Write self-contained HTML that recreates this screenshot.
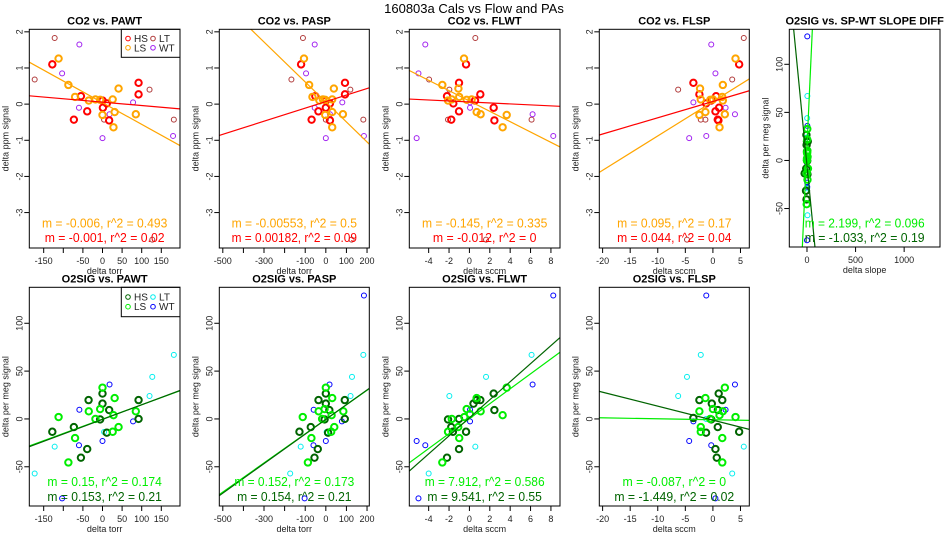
<!DOCTYPE html>
<html><head><meta charset="utf-8"><style>
html,body{margin:0;padding:0;background:#fff;width:950px;height:550px;overflow:hidden;}
svg{display:block;font-family:"Liberation Sans",sans-serif;}
</style></head><body>
<svg id="chart" width="950" height="550" viewBox="0 0 950 550" xmlns="http://www.w3.org/2000/svg">
<rect x="0" y="0" width="950" height="550" fill="#fff"/>
<text x="474" y="13" font-size="13" text-anchor="middle">160803a   Cals vs Flow and PAs</text>
</svg>
<script>
// ---- data: CO2 vs PAWT / PASP ----
const co2_pawt_hs_x=[-128,-55,-73,-39,0,1,11,17,92,92];
const co2_pawt_ls_x=[-112,-87,-70,-35,-18,-6,0,26,31,28,41,85];
const co2_pawt_lt_x=[-122,-173,4,120,182,127];
const co2_pawt_wt_x=[-59,-103,-60,0,18,78,180];
const co2_pasp_hs_x=[-120,-51,-69,-36,1,0,20,20,93,93];
const co2_pasp_ls_x=[-106,-81,-65,-31,-14,-3,-3,31,31,31,39,83];
const co2_pasp_lt_x=[-111,-167,0,119,182,125];
const co2_pasp_wt_x=[-54,-96,-54,0,20,80,185];
const co2_pa_hs_y=[1.1,0.22,-0.43,-0.2,0.1,-0.1,0.02,-0.45,0.59,0.27];
const co2_pa_ls_y=[1.26,0.53,0.2,0.1,0.13,0.12,-0.3,0.13,-0.22,-0.64,0.43,-0.28];
const co2_pa_lt_y=[1.83,0.68,-0.43,0.4,-0.43,-3.75];
const co2_pa_wt_y=[1.65,0.85,-0.1,-0.94,-0.28,0.05,-0.88];
// ---- CO2 vs FLWT ----
const co2_flwt_hs_x=[-0.33,-2.2,-1.78,-1.02,0.55,2.38,-1.58,2.45,-1.02,1.07];
const co2_flwt_hs_y=[1.1,0.22,-0.43,-0.2,0.1,-0.1,0.02,-0.45,0.59,0.27];
const co2_flwt_ls_x=[-0.53,-2.66,-1.0,-1.73,-1.08,-0.27,3.66,0.71,3.26,1.1,-2.1,0.22];
const co2_flwt_ls_y=[1.26,0.53,0.2,0.13,0.43,0.12,-0.3,-0.22,-0.64,-0.28,0.1,0.13];
const co2_flwt_lt_x=[0.58,-3.96,-1.97,6.1,-2.1,1.63];
const co2_flwt_lt_y=[1.83,0.68,0.4,-0.43,-0.43,-3.75];
const co2_flwt_wt_x=[-4.33,-5.0,-5.18,0.06,0.06,6.2,8.23];
const co2_flwt_wt_y=[1.65,0.85,-0.94,0.05,-0.1,-0.28,-0.88];
// ---- CO2 vs FLSP ----
const co2_flsp_hs_x=[4.76,-3.54,-2.45,-1.24,0.58,0.46,1.12,0.88,1.0,-0.3];
const co2_flsp_hs_y=[1.1,0.59,0.27,0.02,0.22,-0.2,-0.1,-0.43,-0.45,0.1];
const co2_flsp_ls_x=[4.1,1.8,-2.33,-2.2,1.7,1.8,-0.48,0,-1.36,-2.45,2.17,1.2];
const co2_flsp_ls_y=[1.26,0.53,0.43,0.13,0.2,0.1,0.12,0.13,-0.22,-0.3,-0.28,-0.64];
const co2_flsp_lt_x=[5.6,3.5,-6.3,-2.2,-1.36,-4.7];
const co2_flsp_lt_y=[1.83,0.68,0.4,-0.43,-0.43,-3.75];
const co2_flsp_wt_x=[-0.3,0.46,-3.54,2.3,4.0,-4.3,-1.2];
const co2_flsp_wt_y=[1.65,0.85,0.05,-0.1,-0.28,-0.94,-0.88];
// ---- O2 vs PAWT / PASP ----
const o2_pa_hs_x=[-128,-55,-73,-39,-35.5,-6,0,0,17,11,92,92];
const o2_pa_hs_y=[-13.4,-40.5,-8.5,-31.5,19.7,-0.5,16,26.5,9.3,-14.4,19.7,0];
const o2_pa_ls_x=[-112,-87,-70,-35,-18,-6,0,26,28,31,41,85];
const o2_pa_ls_y=[2,-45.5,-20,8,0,10.3,32.7,-13.4,3.9,21.8,-8.5,8];
const o2_pa_lt_x=[-122,-173,4,120,127,182];
const o2_pa_lt_y=[-29,-57,-13.7,24,44,67];
const o2_pa_wt_x=[-59,-103,-60,0,18,78,185];
const o2_pa_wt_y=[9.6,-83,-27.5,-23,36,-2.6,129];
// ---- O2 vs FLWT ----
const o2_flwt_hs_x=[-2.2,-1.02,-1.62,-0.33,-1.78,-1.02,0.4,0.7,1.07,2.38,2.45,-2.1];
const o2_flwt_hs_y=[-40.5,-31.5,-13.4,-13.4,-8.5,0,16,19.7,19.7,26.5,9.3,-0.5];
const o2_flwt_ls_x=[-2.66,-1.0,-1.1,-2.1,-1.73,-0.27,-0.5,0.71,1.1,3.66,3.26,0.05];
const o2_flwt_ls_y=[-45.5,-20,-8.5,-13.4,0,10.3,2,21.8,8,32.7,3.9,5];
const o2_flwt_lt_x=[-1.97,1.63,6.1,0.58,-4.0];
const o2_flwt_lt_y=[24,44,67,-29,-57];
const o2_flwt_wt_x=[-5.18,-4.33,-5.0,0.06,0.06,6.2,8.23];
const o2_flwt_wt_y=[-23,-27.5,-83,9.6,-2.6,36,129];
// ---- O2 vs FLSP ----
const o2_flsp_hs_x=[4.76,-2.45,-0.2,1.05,1.7,0.9,0.88,-1.24,0.46,0.7,-3.54,-0.3];
const o2_flsp_hs_y=[-13.4,19.7,16,26.5,19.7,9.3,-8.5,-14.4,-31.5,-40.5,1,-0.5];
const o2_flsp_ls_x=[4.1,2.17,1.7,1.7,-1.36,-2.45,0,-2.2,-2.2,1.2,1.8,-0.48];
const o2_flsp_ls_y=[2,32.7,-45.5,-20,21.8,8,10.3,-8.5,-13.4,3.9,8,0];
const o2_flsp_lt_x=[-6.3,-4.7,-2.2,5.6,3.5,-1.24];
const o2_flsp_lt_y=[24,44,67,-29,-57,0];
const o2_flsp_wt_x=[-1.2,4.0,2.3,-3.54,-4.3,-0.3,0.46];
const o2_flsp_wt_y=[129,36,9.6,-2.6,-23,-27.5,-83];
// ---- O2 vs slope diff ----
const o2_sd_hs_x=[-24,-5,-8,-10,0,2,-4,-6,0,5,8,0];
const o2_sd_ls_x=[0,-3,5,2,0,4,3,-2,6,2,10,0];
const o2_sd_lt_x=[2,5,3,0,2,4];
const o2_sd_wt_x=[4,0,3,2,4,0,3];
// ---- fit lines: [slope, intercept] ----
const fit_co2_pawt_ls=[-0.006,0.04], fit_co2_pawt_hs=[-0.00094,0.055];
const fit_co2_pasp_ls=[-0.00553,0.06], fit_co2_pasp_hs=[0.00181,0.07];
const fit_co2_flwt_ls=[-0.143,0.086], fit_co2_flwt_hs=[-0.0135,0.06];
const fit_co2_flsp_ls=[0.095,0.07], fit_co2_flsp_hs=[0.045,0.073];
const fit_sd_ls=[2.199,15], fit_sd_hs=[-1.033,-5.3];
const fit_o2_pawt_ls=[0.15,-0.2], fit_o2_pawt_hs=[0.153,-0.5];
const fit_o2_pasp_ls=[0.152,-0.4], fit_o2_pasp_hs=[0.154,-0.5];
const fit_o2_flwt_ls=[7.81,0.3], fit_o2_flwt_hs=[9.43,1.2];
const fit_o2_flsp_ls=[-0.1,-0.85], fit_o2_flsp_hs=[-1.46,-1.26];
// ---- annotations ----
const ann_top_ls=["m = -0.006, r^2 = 0.493","m = -0.00553, r^2 = 0.5","m = -0.145, r^2 = 0.335","m = 0.095, r^2 = 0.17","m = 2.199, r^2 = 0.096"];
const ann_top_hs=["m = -0.001, r^2 = 0.02","m = 0.00182, r^2 = 0.09","m = -0.012, r^2 = 0","m = 0.044, r^2 = 0.04","m = -1.033, r^2 = 0.19"];
const ann_bot_ls=["m = 0.15, r^2 = 0.174","m = 0.152, r^2 = 0.173","m = 7.912, r^2 = 0.586","m = -0.087, r^2 = 0"];
const ann_bot_hs=["m = 0.153, r^2 = 0.21","m = 0.154, r^2 = 0.21","m = 9.541, r^2 = 0.55","m = -1.449, r^2 = 0.02"];
// ---- ticks ----
const tick_pa=[-150,-100,-50,0,50,100,150], lab_pa=["-150","","-50","0","50","100","150"];
const tick_pasp=[-500,-400,-300,-200,-100,0,100,200], lab_pasp=["-500","","-300","","-100","0","100","200"];
const tick_flwt=[-4,-2,0,2,4,6,8], lab_flwt=["-4","-2","0","2","4","6","8"];
const tick_flsp=[-20,-15,-10,-5,0,5], lab_flsp=["-20","-15","-10","-5","0","5"];
const tick_sd=[0,500,1000], lab_sd=["0","500","1000"];
const tick_co2=[2,1,0,-1,-2,-3], lab_co2=["2","1","0","-1","-2","-3"];
const tick_o2=[100,50,0,-50], lab_o2=["100","50","0","-50"];

const NS="http://www.w3.org/2000/svg";
const svg=document.getElementById('chart');
function mk(tag,attrs,parent){const e=document.createElementNS(NS,tag);for(const k in attrs)e.setAttribute(k,attrs[k]);(parent||svg).appendChild(e);return e;}
const TOPC={hs:"#ff0000",ls:"#ffa500",lt:"#b03a3a",wt:"#a020f0"};
const BOTC={hs:"#006400",ls:"#00ee00",lt:"#00eeee",wt:"#0000ff"};

function panel(cfg){
  const g=mk('g',{});
  
  
  const {l,r,t,b,xlim,ylim}=cfg;
  const sx=v=>l+(v-xlim[0])/(xlim[1]-xlim[0])*(r-l);
  const sy=v=>b-(v-ylim[0])/(ylim[1]-ylim[0])*(b-t);
  const cid='clip-'+cfg.name;
  const cp=mk('clipPath',{id:cid},g);mk('rect',{x:l,y:t,width:r-l,height:b-t},cp);
  const ti=mk('text',{x:(l+r)/2,y:t-5,'font-size':11,'font-weight':'bold','text-anchor':'middle'},g);
  ti.textContent=cfg.title;
  
  
  cfg.xt.forEach((v,i)=>{
    const X=sx(v);
    mk('line',{x1:X,x2:X,y1:b,y2:b+5,stroke:'#000','stroke-width':1},g);
    if(cfg.xl[i]){const tx=mk('text',{x:X,y:b+16,'font-size':9,'text-anchor':'middle',fill:'#222'},g);tx.textContent=cfg.xl[i];
      
      }
  });
  mk('line',{x1:sx(cfg.xt[0]),x2:sx(cfg.xt[cfg.xt.length-1]),y1:b,y2:b,stroke:'#000'},g);
  const xa=mk('text',{x:(l+r)/2,y:b+26,'font-size':9,'text-anchor':'middle',fill:'#222'},g);xa.textContent=cfg.xlab;
  
  
  cfg.yt.forEach((v,i)=>{
    const Y=sy(v);
    mk('line',{x1:l-5,x2:l,y1:Y,y2:Y,stroke:'#000'},g);
    const ty=mk('text',{x:l-4,y:Y,'font-size':9,'text-anchor':'middle',transform:`rotate(-90 ${l-4} ${Y})`,fill:'#222',dy:'-3'},g);ty.textContent=cfg.yl[i];
    
    
  });
  const ya=mk('text',{x:l-21,y:(t+b)/2,'font-size':9,'text-anchor':'middle',transform:`rotate(-90 ${l-21} ${(t+b)/2})`,fill:'#222'},g);ya.textContent=cfg.ylab;
  
  
  const C=cfg.colors;
  ['lt','wt','hs','ls'].forEach(k=>{
    const xs=cfg.pts[k][0], ys=cfg.pts[k][1];
    const thick=(k==='hs'||k==='ls');
    xs.forEach((xv,i)=>{
      const c=mk('circle',{cx:sx(xv),cy:sy(ys[i]),r:thick?3.2:2.5,fill:'none',stroke:C[k],'stroke-width':thick?2:1,'clip-path':`url(#${cid})`},g);
      
      
    });
  });
  [['ls',cfg.fits[0]],['hs',cfg.fits[1]]].forEach(([k,f])=>{
    const ln=mk('line',{x1:sx(xlim[0]),y1:sy(f[1]+f[0]*xlim[0]),x2:sx(xlim[1]),y2:sy(f[1]+f[0]*xlim[1]),stroke:C[k],'stroke-width':1.2,'clip-path':`url(#${cid})`},g);
    
    
  });
  const a1=mk('text',{x:(l+r)/2,y:cfg.annY[0],'font-size':13,'text-anchor':'middle',fill:C.ls,'textLength':cfg.annW[0],'lengthAdjust':'spacingAndGlyphs'},g);a1.textContent=cfg.ann[0];
  
  
  const a2=mk('text',{x:(l+r)/2,y:cfg.annY[1],'font-size':13,'text-anchor':'middle',fill:C.hs,'textLength':cfg.annW[1],'lengthAdjust':'spacingAndGlyphs'},g);a2.textContent=cfg.ann[1];
  
  
  if(cfg.legend){
    const lg=mk('g',{},g);
    
    
    mk('rect',{x:r-58.7,y:t,width:58.7,height:cfg.legH,fill:'#fff',stroke:'#000'},lg);
    [['hs','HS',0,0],['ls','LS',0,1],['lt','LT',1,0],['wt','WT',1,1]].forEach(([k,lab,cx,ry])=>{
      const X=r-52+cx*25, Y=t+cfg.legH*0.33+ry*cfg.legH*0.33;
      mk('circle',{cx:X,cy:Y,r:2.3,fill:'none',stroke:C[k],'stroke-width':1},lg);
      const tx=mk('text',{x:X+6,y:Y+3.5,'font-size':10,fill:'#222'},lg);tx.textContent=lab;
      
      
    });
  }
  mk('rect',{x:l,y:t,width:r-l,height:b-t,fill:'none',stroke:'#000','stroke-width':1},g);
}

const cols=[[29.3,180],[219.3,369.3],[409.3,560],[599.3,749.3]];
const xlims=[[-186.7,197.7],[-517,211],[-5.9,8.89],[-20.6,6.6]];
const xts=[[tick_pa,lab_pa],[tick_pasp,lab_pasp],[tick_flwt,lab_flwt],[tick_flsp,lab_flsp]];
const xlabs=["delta torr","delta torr","delta sccm","delta sccm"];
const topTitles=["CO2 vs. PAWT","CO2 vs. PASP","CO2 vs. FLWT","CO2 vs. FLSP"];
const botTitles=["O2SIG vs. PAWT","O2SIG vs. PASP","O2SIG vs. FLWT","O2SIG vs. FLSP"];
const topPts=[
 {hs:[co2_pawt_hs_x,co2_pa_hs_y],ls:[co2_pawt_ls_x,co2_pa_ls_y],lt:[co2_pawt_lt_x,co2_pa_lt_y],wt:[co2_pawt_wt_x,co2_pa_wt_y]},
 {hs:[co2_pasp_hs_x,co2_pa_hs_y],ls:[co2_pasp_ls_x,co2_pa_ls_y],lt:[co2_pasp_lt_x,co2_pa_lt_y],wt:[co2_pasp_wt_x,co2_pa_wt_y]},
 {hs:[co2_flwt_hs_x,co2_flwt_hs_y],ls:[co2_flwt_ls_x,co2_flwt_ls_y],lt:[co2_flwt_lt_x,co2_flwt_lt_y],wt:[co2_flwt_wt_x,co2_flwt_wt_y]},
 {hs:[co2_flsp_hs_x,co2_flsp_hs_y],ls:[co2_flsp_ls_x,co2_flsp_ls_y],lt:[co2_flsp_lt_x,co2_flsp_lt_y],wt:[co2_flsp_wt_x,co2_flsp_wt_y]}];
const botPts=[
 {hs:[o2_pa_hs_x,o2_pa_hs_y],ls:[o2_pa_ls_x,o2_pa_ls_y],lt:[o2_pa_lt_x,o2_pa_lt_y],wt:[o2_pa_wt_x,o2_pa_wt_y]},
 {hs:[o2_pa_hs_x,o2_pa_hs_y],ls:[o2_pa_ls_x,o2_pa_ls_y],lt:[o2_pa_lt_x,o2_pa_lt_y],wt:[o2_pa_wt_x,o2_pa_wt_y]},
 {hs:[o2_flwt_hs_x,o2_flwt_hs_y],ls:[o2_flwt_ls_x,o2_flwt_ls_y],lt:[o2_flwt_lt_x,o2_flwt_lt_y],wt:[o2_flwt_wt_x,o2_flwt_wt_y]},
 {hs:[o2_flsp_hs_x,o2_flsp_hs_y],ls:[o2_flsp_ls_x,o2_flsp_ls_y],lt:[o2_flsp_lt_x,o2_flsp_lt_y],wt:[o2_flsp_wt_x,o2_flsp_wt_y]}];
const topFits=[[fit_co2_pawt_ls,fit_co2_pawt_hs],[fit_co2_pasp_ls,fit_co2_pasp_hs],[fit_co2_flwt_ls,fit_co2_flwt_hs],[fit_co2_flsp_ls,fit_co2_flsp_hs]];
const botFits=[[fit_o2_pawt_ls,fit_o2_pawt_hs],[fit_o2_pasp_ls,fit_o2_pasp_hs],[fit_o2_flwt_ls,fit_o2_flwt_hs],[fit_o2_flsp_ls,fit_o2_flsp_hs]];
const measure=s=>s.length*5.45;
for(let i=0;i<4;i++){
  panel({name:'panel-co2-'+i,l:cols[i][0],r:cols[i][1],t:29.3,b:248,xlim:xlims[i],ylim:[-3.98,2.07],
    title:topTitles[i],xt:xts[i][0],xl:xts[i][1],xlab:xlabs[i],yt:tick_co2,yl:lab_co2,ylab:"delta ppm signal",
    colors:TOPC,pts:topPts[i],fits:topFits[i],ann:[ann_top_ls[i],ann_top_hs[i]],annY:[227.5,242],
    annW:[measure(ann_top_ls[i]),measure(ann_top_hs[i])],legend:i===0,legH:28});
  panel({name:'panel-o2-'+i,l:cols[i][0],r:cols[i][1],t:287.3,b:506,xlim:xlims[i],ylim:[-91,137.6],
    title:botTitles[i],xt:xts[i][0],xl:xts[i][1],xlab:xlabs[i],yt:tick_o2,yl:lab_o2,ylab:"delta per meg signal",
    colors:BOTC,pts:botPts[i],fits:botFits[i],ann:[ann_bot_ls[i],ann_bot_hs[i]],annY:[486,501],
    annW:[measure(ann_bot_ls[i]),measure(ann_bot_hs[i])],legend:i===0,legH:29.4});
}
panel({name:'panel-o2-slope-diff',l:789.3,r:940,t:29.3,b:247,xlim:[-182,1369],ylim:[-90,136.4],
  title:"O2SIG vs. SP-WT SLOPE DIFF",xt:tick_sd,xl:lab_sd,xlab:"delta slope",yt:tick_o2,yl:lab_o2,ylab:"delta per meg signal",
  colors:BOTC,pts:{hs:[o2_sd_hs_x,o2_pa_hs_y],ls:[o2_sd_ls_x,o2_pa_ls_y],lt:[o2_sd_lt_x,o2_pa_lt_y],wt:[o2_sd_wt_x,o2_pa_wt_y]},
  fits:[fit_sd_ls,fit_sd_hs],ann:[ann_top_ls[4],ann_top_hs[4]],annY:[227.5,242],
  annW:[measure(ann_top_ls[4]),measure(ann_top_hs[4])],legend:false});
</script>
</body></html>
